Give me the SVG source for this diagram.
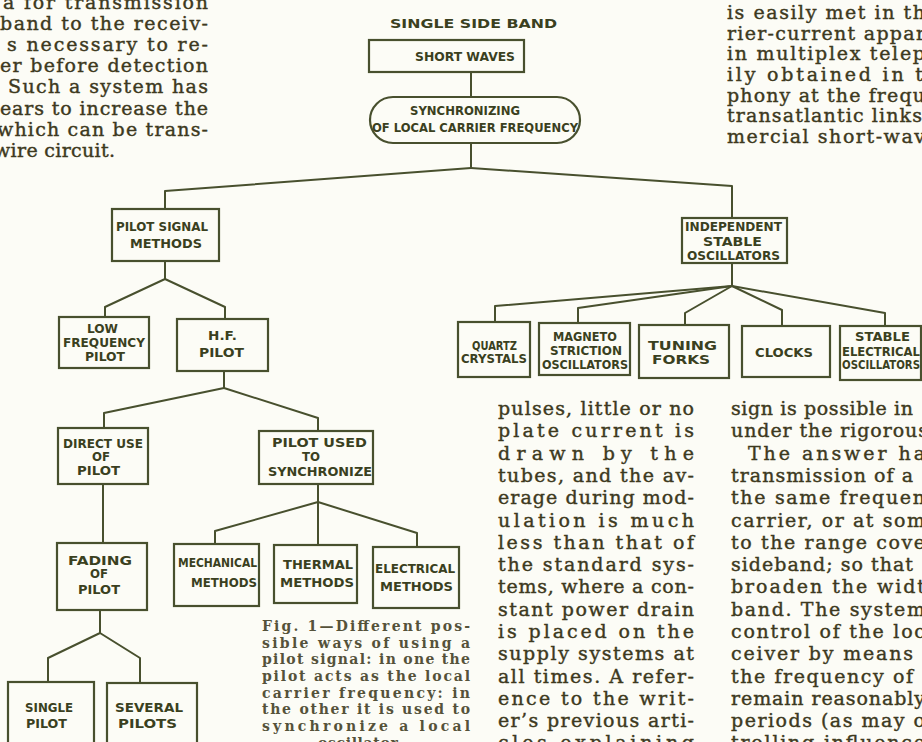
<svg xmlns="http://www.w3.org/2000/svg" width="922" height="742" viewBox="0 0 922 742">
<style>
.bg{fill:#fcfcf6}
.box{fill:none;stroke:#48502e;stroke-width:2.2}
.ln{fill:none;stroke:#48502e;stroke-width:2;stroke-linejoin:round}
.lbl{font-family:"DejaVu Sans","Liberation Sans",sans-serif;font-size:12px;font-weight:bold;fill:#3a4020}
.big{font-size:13px}
.body{font-family:"DejaVu Serif","Liberation Serif",serif;font-size:19px;fill:#3d3920;stroke:#3d3920;stroke-width:0.4}
.cap{font-family:"DejaVu Serif","Liberation Serif",serif;font-size:14px;font-weight:bold;fill:#55523a}
</style>
<rect class="bg" x="0" y="0" width="922" height="742"/>

<g id="text-top-left">
<text class="body" x="3" y="9" textLength="205" lengthAdjust="spacing">a for transmission</text>
<text class="body" x="0" y="30" textLength="208" lengthAdjust="spacing">band to the receiv-</text>
<text class="body" x="7" y="51" textLength="201" lengthAdjust="spacing">s necessary to re-</text>
<text class="body" x="0" y="72" textLength="208" lengthAdjust="spacing">er before detection</text>
<text class="body" x="8" y="93" textLength="200" lengthAdjust="spacing">Such a system has</text>
<text class="body" x="0" y="115" textLength="208" lengthAdjust="spacing">ears to increase the</text>
<text class="body" x="-3" y="136" textLength="211" lengthAdjust="spacing">which can be trans-</text>
<text class="body" x="-6" y="157" textLength="121" lengthAdjust="spacing">wire circuit.</text>
</g>

<g id="text-top-right">
<text class="body" x="727" y="19" textLength="198" lengthAdjust="spacing">is easily met in th</text>
<text class="body" x="727" y="40" textLength="198" lengthAdjust="spacing">rier-current appar</text>
<text class="body" x="727" y="60" textLength="198" lengthAdjust="spacing">in multiplex telep</text>
<text class="body" x="727" y="81" textLength="196" lengthAdjust="spacing">ily obtained in t</text>
<text class="body" x="727" y="102" textLength="198" lengthAdjust="spacing">phony at the frequ</text>
<text class="body" x="727" y="122" textLength="195" lengthAdjust="spacing">transatlantic links</text>
<text class="body" x="727" y="143" textLength="198" lengthAdjust="spacing">mercial short-wav</text>
</g>

<g id="text-middle-column">
<text class="body" x="498" y="415" textLength="196" lengthAdjust="spacing">pulses, little or no</text>
<text class="body" x="498" y="437" textLength="196" lengthAdjust="spacing">plate current is</text>
<text class="body" x="498" y="460" textLength="196" lengthAdjust="spacing">drawn by the</text>
<text class="body" x="498" y="482" textLength="196" lengthAdjust="spacing">tubes, and the av-</text>
<text class="body" x="498" y="504" textLength="196" lengthAdjust="spacing">erage during mod-</text>
<text class="body" x="498" y="527" textLength="196" lengthAdjust="spacing">ulation is much</text>
<text class="body" x="498" y="549" textLength="196" lengthAdjust="spacing">less than that of</text>
<text class="body" x="498" y="571" textLength="196" lengthAdjust="spacing">the standard sys-</text>
<text class="body" x="498" y="593" textLength="196" lengthAdjust="spacing">tems, where a con-</text>
<text class="body" x="498" y="616" textLength="196" lengthAdjust="spacing">stant power drain</text>
<text class="body" x="498" y="638" textLength="196" lengthAdjust="spacing">is placed on the</text>
<text class="body" x="498" y="660" textLength="196" lengthAdjust="spacing">supply systems at</text>
<text class="body" x="498" y="683" textLength="196" lengthAdjust="spacing">all times. A refer-</text>
<text class="body" x="498" y="705" textLength="196" lengthAdjust="spacing">ence to the writ-</text>
<text class="body" x="498" y="727" textLength="196" lengthAdjust="spacing">er’s previous arti-</text>
<text class="body" x="498" y="749" textLength="196" lengthAdjust="spacing">cles explaining</text>
</g>

<g id="text-right-column">
<text class="body" x="731" y="415" textLength="182" lengthAdjust="spacing">sign is possible in</text>
<text class="body" x="731" y="437" textLength="197" lengthAdjust="spacing">under the rigorous</text>
<text class="body" x="748" y="460" textLength="177" lengthAdjust="spacing">The answer ha</text>
<text class="body" x="731" y="482" textLength="182" lengthAdjust="spacing">transmission of a</text>
<text class="body" x="731" y="504" textLength="194" lengthAdjust="spacing">the same frequen</text>
<text class="body" x="731" y="527" textLength="194" lengthAdjust="spacing">carrier, or at som</text>
<text class="body" x="731" y="549" textLength="194" lengthAdjust="spacing">to the range cove</text>
<text class="body" x="731" y="571" textLength="182" lengthAdjust="spacing">sideband; so that</text>
<text class="body" x="731" y="593" textLength="194" lengthAdjust="spacing">broaden the widt</text>
<text class="body" x="731" y="616" textLength="194" lengthAdjust="spacing">band. The system</text>
<text class="body" x="731" y="638" textLength="194" lengthAdjust="spacing">control of the loc</text>
<text class="body" x="731" y="660" textLength="182" lengthAdjust="spacing">ceiver by means</text>
<text class="body" x="731" y="683" textLength="182" lengthAdjust="spacing">the frequency of</text>
<text class="body" x="731" y="705" textLength="194" lengthAdjust="spacing">remain reasonably</text>
<text class="body" x="731" y="727" textLength="194" lengthAdjust="spacing">periods (as may o</text>
<text class="body" x="731" y="749" textLength="194" lengthAdjust="spacing">trolling influence</text>
</g>

<g id="caption">
<text class="cap" x="262" y="631" textLength="208" lengthAdjust="spacing">Fig. 1—Different pos-</text>
<text class="cap" x="262" y="648" textLength="208" lengthAdjust="spacing">sible ways of using a</text>
<text class="cap" x="262" y="664" textLength="208" lengthAdjust="spacing">pilot signal: in one the</text>
<text class="cap" x="262" y="681" textLength="208" lengthAdjust="spacing">pilot acts as the local</text>
<text class="cap" x="262" y="698" textLength="208" lengthAdjust="spacing">carrier frequency: in</text>
<text class="cap" x="262" y="714" textLength="208" lengthAdjust="spacing">the other it is used to</text>
<text class="cap" x="262" y="731" textLength="208" lengthAdjust="spacing">synchronize a local</text>
<text class="cap" x="318" y="748" textLength="84" lengthAdjust="spacing">oscillator.</text>
</g>

<g id="title">
<text class="lbl big" x="390" y="28" textLength="167" lengthAdjust="spacingAndGlyphs">SINGLE SIDE BAND</text>
</g>

<g id="connectors">
<path class="ln" d="M471,72 V97"/>
<path class="ln" d="M471,143 V168"/>
<path class="ln" d="M471,168 L165,191 V209"/>
<path class="ln" d="M471,168 L732,186 V218"/>
<path class="ln" d="M165,261 V279 L105,307 V317"/>
<path class="ln" d="M165,279 L225,307 V319"/>
<path class="ln" d="M224,371 V388 L104,413 V428"/>
<path class="ln" d="M224,388 L318,418 V431"/>
<path class="ln" d="M103,484 V543"/>
<path class="ln" d="M318,484 V502 L215,531 V544"/>
<path class="ln" d="M318,502 V545"/>
<path class="ln" d="M318,502 L417,533 V548"/>
<path class="ln" d="M100,610 V633 L48,658 V682"/>
<path class="ln" d="M100,633 L140,658 V683"/>
<path class="ln" d="M732,263 V286 L495,306 V322"/>
<path class="ln" d="M732,286 L578,308 V323"/>
<path class="ln" d="M732,286 L685,313 V325"/>
<path class="ln" d="M732,286 L782,310 V326"/>
<path class="ln" d="M732,286 L885,313 V326"/>
</g>

<g id="short-waves">
<rect class="box" x="369" y="40" width="155" height="32"/>
<text class="lbl big" x="415" y="61" textLength="100" lengthAdjust="spacingAndGlyphs">SHORT WAVES</text>
</g>
<g id="synchronizing">
<rect class="box" x="370" y="97" width="210" height="46" rx="23" ry="23"/>
<text class="lbl" x="410" y="115" textLength="110" lengthAdjust="spacingAndGlyphs">SYNCHRONIZING</text>
<text class="lbl" x="372" y="132" textLength="206" lengthAdjust="spacingAndGlyphs">OF LOCAL CARRIER FREQUENCY</text>
</g>
<g id="pilot-signal-methods">
<rect class="box" x="112" y="209" width="107" height="52"/>
<text class="lbl" x="116" y="231" textLength="92" lengthAdjust="spacingAndGlyphs">PILOT SIGNAL</text>
<text class="lbl" x="130" y="248" textLength="72" lengthAdjust="spacingAndGlyphs">METHODS</text>
</g>
<g id="low-frequency-pilot">
<rect class="box" x="59" y="317" width="90" height="51"/>
<text class="lbl" x="87" y="333" textLength="31" lengthAdjust="spacingAndGlyphs">LOW</text>
<text class="lbl" x="63" y="347" textLength="82" lengthAdjust="spacingAndGlyphs">FREQUENCY</text>
<text class="lbl" x="85" y="361" textLength="40" lengthAdjust="spacingAndGlyphs">PILOT</text>
</g>
<g id="hf-pilot">
<rect class="box" x="177" y="319" width="91" height="52"/>
<text class="lbl" x="208" y="340" textLength="29" lengthAdjust="spacingAndGlyphs">H.F.</text>
<text class="lbl" x="199" y="357" textLength="45" lengthAdjust="spacingAndGlyphs">PILOT</text>
</g>
<g id="direct-use-of-pilot">
<rect class="box" x="58" y="428" width="90" height="56"/>
<text class="lbl" x="63" y="448" textLength="80" lengthAdjust="spacingAndGlyphs">DIRECT USE</text>
<text class="lbl" x="92" y="461" textLength="18" lengthAdjust="spacingAndGlyphs">OF</text>
<text class="lbl" x="77" y="475" textLength="43" lengthAdjust="spacingAndGlyphs">PILOT</text>
</g>
<g id="pilot-used-to-synchronize">
<rect class="box" x="259" y="431" width="114" height="53"/>
<text class="lbl" x="272" y="447" textLength="95" lengthAdjust="spacingAndGlyphs">PILOT USED</text>
<text class="lbl" x="302" y="461" textLength="18" lengthAdjust="spacingAndGlyphs">TO</text>
<text class="lbl" x="268" y="476" textLength="104" lengthAdjust="spacingAndGlyphs">SYNCHRONIZE</text>
</g>
<g id="fading-of-pilot">
<rect class="box" x="57" y="543" width="90" height="67"/>
<text class="lbl" x="68" y="565" textLength="64" lengthAdjust="spacingAndGlyphs">FADING</text>
<text class="lbl" x="90" y="578" textLength="18" lengthAdjust="spacingAndGlyphs">OF</text>
<text class="lbl" x="78" y="594" textLength="42" lengthAdjust="spacingAndGlyphs">PILOT</text>
</g>
<g id="mechanical-methods">
<rect class="box" x="174" y="544" width="85" height="62"/>
<text class="lbl" x="178" y="567" textLength="79" lengthAdjust="spacingAndGlyphs">MECHANICAL</text>
<text class="lbl" x="191" y="587" textLength="66" lengthAdjust="spacingAndGlyphs">METHODS</text>
</g>
<g id="thermal-methods">
<rect class="box" x="274" y="545" width="83" height="58"/>
<text class="lbl" x="283" y="569" textLength="70" lengthAdjust="spacingAndGlyphs">THERMAL</text>
<text class="lbl" x="280" y="587" textLength="74" lengthAdjust="spacingAndGlyphs">METHODS</text>
</g>
<g id="electrical-methods">
<rect class="box" x="373" y="547" width="86" height="61"/>
<text class="lbl" x="375" y="573" textLength="80" lengthAdjust="spacingAndGlyphs">ELECTRICAL</text>
<text class="lbl" x="380" y="591" textLength="73" lengthAdjust="spacingAndGlyphs">METHODS</text>
</g>
<g id="single-pilot">
<rect class="box" x="8" y="682" width="86" height="70"/>
<text class="lbl" x="25" y="712" textLength="48" lengthAdjust="spacingAndGlyphs">SINGLE</text>
<text class="lbl" x="26" y="728" textLength="41" lengthAdjust="spacingAndGlyphs">PILOT</text>
</g>
<g id="several-pilots">
<rect class="box" x="107" y="683" width="90" height="70"/>
<text class="lbl" x="115" y="712" textLength="68" lengthAdjust="spacingAndGlyphs">SEVERAL</text>
<text class="lbl" x="118" y="728" textLength="59" lengthAdjust="spacingAndGlyphs">PILOTS</text>
</g>
<g id="independent-stable-oscillators">
<rect class="box" x="682" y="218" width="105" height="45"/>
<text class="lbl" x="685" y="231" textLength="97" lengthAdjust="spacingAndGlyphs">INDEPENDENT</text>
<text class="lbl" x="703" y="246" textLength="59" lengthAdjust="spacingAndGlyphs">STABLE</text>
<text class="lbl" x="687" y="260" textLength="93" lengthAdjust="spacingAndGlyphs">OSCILLATORS</text>
</g>
<g id="quartz-crystals">
<rect class="box" x="458" y="322" width="72" height="55"/>
<text class="lbl" x="472" y="350" textLength="45" lengthAdjust="spacingAndGlyphs">QUARTZ</text>
<text class="lbl" x="461" y="363" textLength="66" lengthAdjust="spacingAndGlyphs">CRYSTALS</text>
</g>
<g id="magneto-striction-oscillators">
<rect class="box" x="539" y="323" width="91" height="52"/>
<text class="lbl" x="553" y="341" textLength="64" lengthAdjust="spacingAndGlyphs">MAGNETO</text>
<text class="lbl" x="550" y="355" textLength="72" lengthAdjust="spacingAndGlyphs">STRICTION</text>
<text class="lbl" x="542" y="369" textLength="86" lengthAdjust="spacingAndGlyphs">OSCILLATORS</text>
</g>
<g id="tuning-forks">
<rect class="box" x="639" y="325" width="90" height="53"/>
<text class="lbl big" x="648" y="350" textLength="69" lengthAdjust="spacingAndGlyphs">TUNING</text>
<text class="lbl big" x="652" y="364" textLength="58" lengthAdjust="spacingAndGlyphs">FORKS</text>
</g>
<g id="clocks">
<rect class="box" x="742" y="326" width="88" height="51"/>
<text class="lbl big" x="755" y="357" textLength="58" lengthAdjust="spacingAndGlyphs">CLOCKS</text>
</g>
<g id="stable-electrical-oscillators">
<rect class="box" x="840" y="326" width="81" height="54"/>
<text class="lbl" x="855" y="341" textLength="55" lengthAdjust="spacingAndGlyphs">STABLE</text>
<text class="lbl" x="842" y="356" textLength="78" lengthAdjust="spacingAndGlyphs">ELECTRICAL</text>
<text class="lbl" x="842" y="369" textLength="78" lengthAdjust="spacingAndGlyphs">OSCILLATORS</text>
</g>
</svg>
